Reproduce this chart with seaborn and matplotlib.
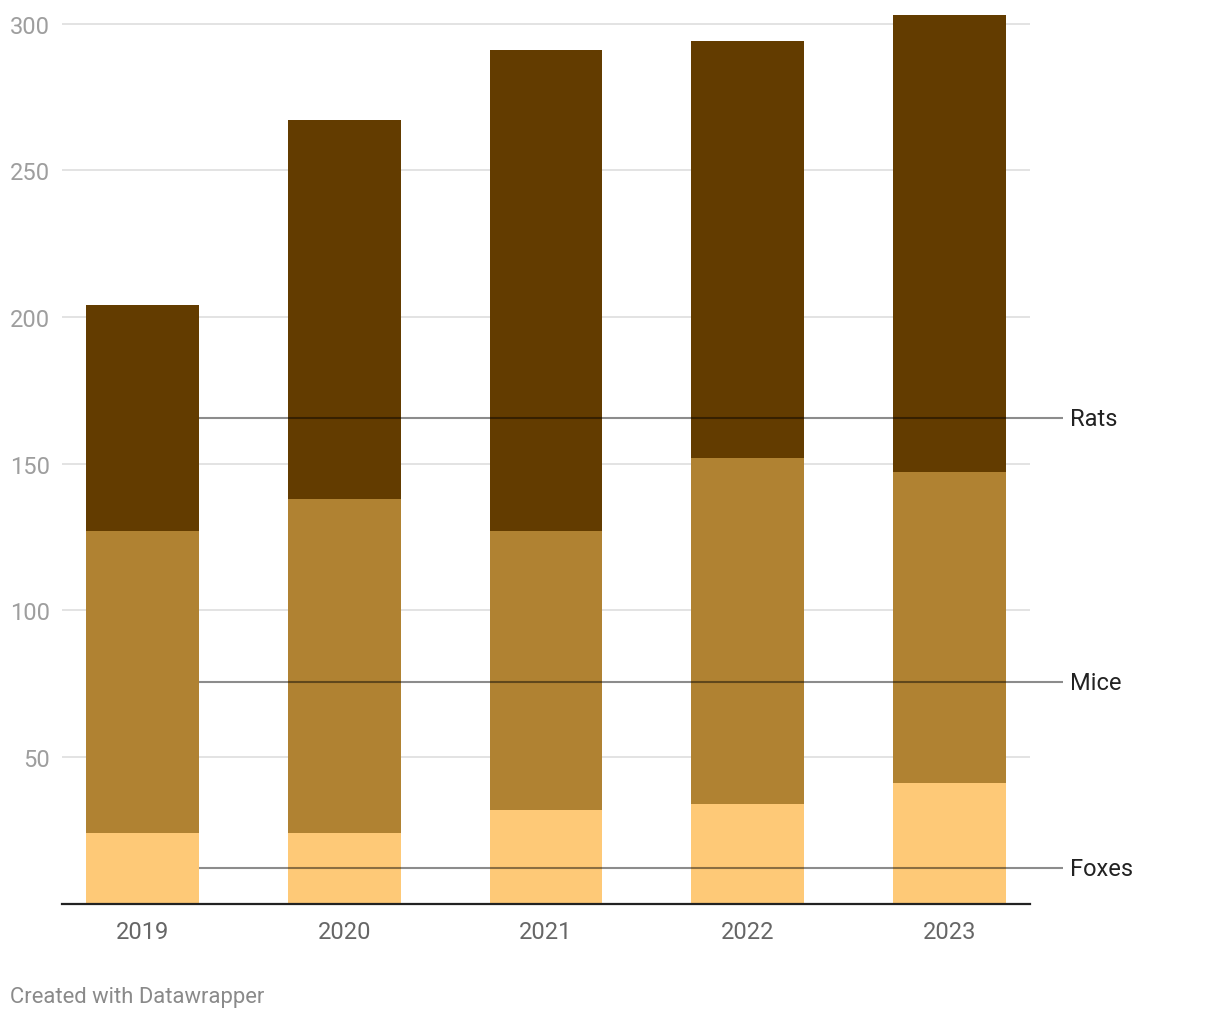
import matplotlib
matplotlib.use("Agg")
import matplotlib.pyplot as plt
import seaborn as sns
import pandas as pd
import numpy as np

years = ["2019", "2020", "2021", "2022", "2023"]
foxes = [24, 24, 32, 34, 41]
mice = [103, 114, 95, 118, 106]
rats = [77, 129, 164, 142, 156]
series_names = ["Foxes", "Mice", "Rats"]
colors = {"Foxes": "#fec977", "Mice": "#b08232", "Rats": "#633c00"}
y_ticks = [50, 100, 150, 200, 250, 300]

sns.set_theme(style="white")
plt.rcParams["font.family"] = ["Roboto", "DejaVu Sans"]

fig = plt.figure(figsize=(12.2, 10.2), dpi=100)
ax = fig.add_axes([62 / 1220, 115.5 / 1020, (1030 - 62) / 1220, 897.5 / 1020])

df = pd.DataFrame({"year": years, "Foxes": foxes, "Mice": mice, "Rats": rats})
df["c_foxes"] = df["Foxes"]
df["c_mice"] = df["Foxes"] + df["Mice"]
df["c_rats"] = df["c_mice"] + df["Rats"]

for col, name in [("c_rats", "Rats"), ("c_mice", "Mice"), ("c_foxes", "Foxes")]:
    sns.barplot(data=df, x="year", y=col, color=colors[name], width=0.56,
                saturation=1, ax=ax, zorder=2, linewidth=0, edgecolor="none")

ax.set_xlim(-0.4, 4.4)
ax.set_ylim(0, 306)
ax.set_yticks(y_ticks)
ax.set_yticklabels([str(t) for t in y_ticks])
ax.yaxis.grid(True, color="#e3e3e3", linewidth=1.4, zorder=0)
ax.set_axisbelow(True)
for s in ["top", "right", "left"]:
    ax.spines[s].set_visible(False)
ax.spines["bottom"].set_color("#222222")
ax.spines["bottom"].set_linewidth(1.6)
ax.spines["bottom"].set_zorder(5)
ax.tick_params(axis="y", length=0, pad=8.5, labelsize=17, labelcolor="#9e9e9e")
ax.tick_params(axis="x", length=0, pad=12, labelsize=17, labelcolor="#666666")
ax.set_xlabel("")
ax.set_ylabel("")

# Direct labels with leader lines at midpoints of first bar's segments
first = df.iloc[0]
mids = {
    "Foxes": first["Foxes"] / 2,
    "Mice": first["Foxes"] + first["Mice"] / 2,
    "Rats": first["c_mice"] + first["Rats"] / 2,
}
x_start = 0 + 0.28
x_end = (1063 - 143) / 201.5
for name in series_names:
    y = mids[name]
    ax.plot([x_start, x_end], [y, y], color="black", alpha=0.45, linewidth=1.5,
            zorder=4, clip_on=False, solid_capstyle="butt")
    ax.text(x_end + 7 / 201.5, y, name, va="center", ha="left", fontsize=17,
            color="#222222", clip_on=False)

fig.text(10 / 1220, 1 - 998 / 1020, "Created with Datawrapper", fontsize=15.8,
         color="#8a8a8a", va="center", ha="left")

fig.savefig("out.png", dpi=100, facecolor="white")
